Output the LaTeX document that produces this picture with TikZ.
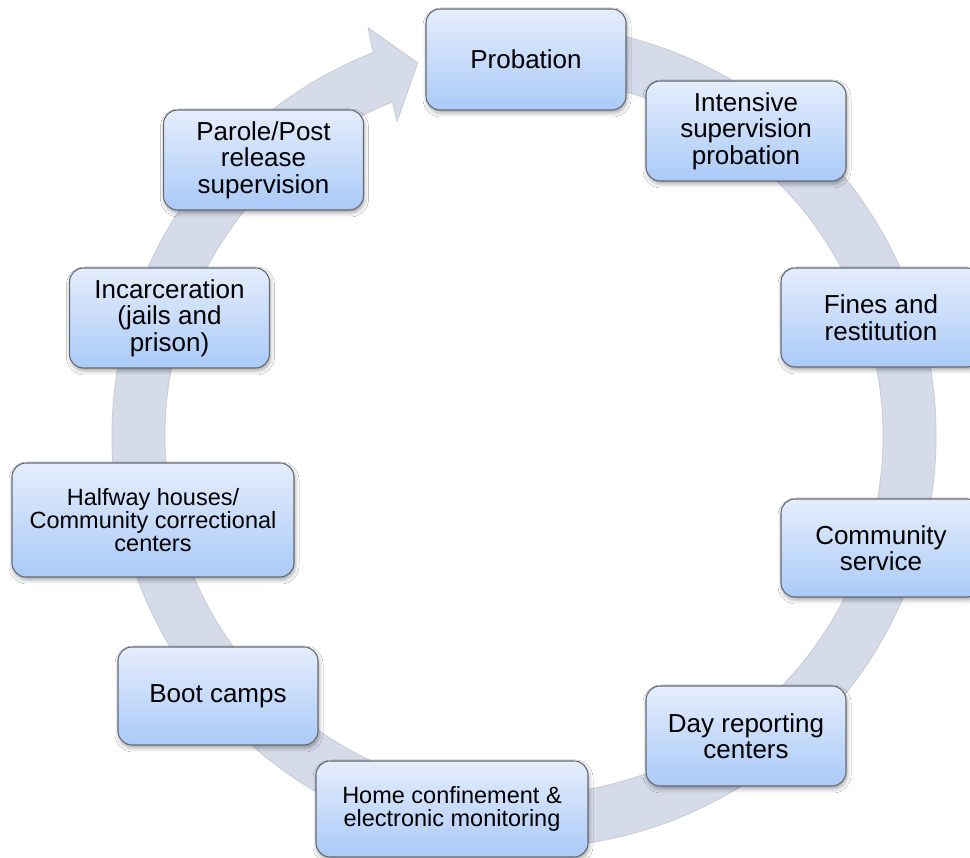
\documentclass[tikz,border=0pt]{standalone}
\usepackage{fontspec}
\setmainfont{Liberation Sans}
\usetikzlibrary{shadows.blur}
\definecolor{ringfill}{RGB}{214,219,233}
\definecolor{ringedge}{RGB}{200,203,214}
\definecolor{nodetop}{RGB}{229,237,252}
\definecolor{nodebot}{RGB}{170,202,248}
\definecolor{nodeline}{RGB}{100,106,115}
\newcommand\fbig{\fontsize{26}{26.5}\selectfont}
\newcommand\fsmall{\fontsize{23.5}{23.3}\selectfont}
\tikzset{
  box/.style={rounded corners=14pt, draw=nodeline, line width=1.1pt,
    top color=nodetop, bottom color=nodebot, align=center, inner sep=0pt,
    text=black, font=\fbig, minimum width=200pt, minimum height=100pt,
    blur shadow={shadow xshift=1pt, shadow yshift=-3pt, shadow blur radius=4pt, shadow opacity=35}},
  smallbox/.style={box, font=\fsmall}
}
\begin{document}
\begin{tikzpicture}[x=1pt,y=1pt]
\useasboundingbox (0,0) rectangle (970,858);
\fill[white] (0,0) rectangle (970,858);
% ring arrow
\begin{scope}[shift={(524,422)}]
\filldraw[fill=ringfill, draw=ringedge, line width=0.8pt]
  (80:412) arc[start angle=80, end angle=-248.5, radius=412]
  -- (-249.1:437) -- (-254.1:388) -- (-248:339) -- (-248.5:359)
  arc[start angle=-248.5, end angle=80, radius=359] -- cycle;
\end{scope}
% nodes
\node[box, minimum height=101pt] (prob) at (526,798.5) {Probation};
\node[box] (isp) at (746,727) {Intensive\\supervision\\probation};
\node[box, minimum height=99pt] (fines) at (881,540.5) {Fines and\\restitution};
\node[box, minimum height=98pt] (comm) at (881,310) {Community\\service};
\node[box] (day) at (746,122) {Day reporting\\centers};
\node[smallbox, minimum width=272pt, minimum height=96pt] (home) at (452,49) {Home confinement \&\\electronic monitoring};
\node[box, minimum height=98pt] (boot) at (218,162) {Boot camps};
\node[smallbox, minimum width=282pt, minimum height=114pt] (half) at (153,338) {Halfway houses/\\Community correctional\\centers};
\node[box] (inc) at (169.5,540) {Incarceration\\(jails and\\prison)};
\node[box] (parole) at (263.5,698) {Parole/Post\\release\\supervision};
\end{tikzpicture}
\end{document}
